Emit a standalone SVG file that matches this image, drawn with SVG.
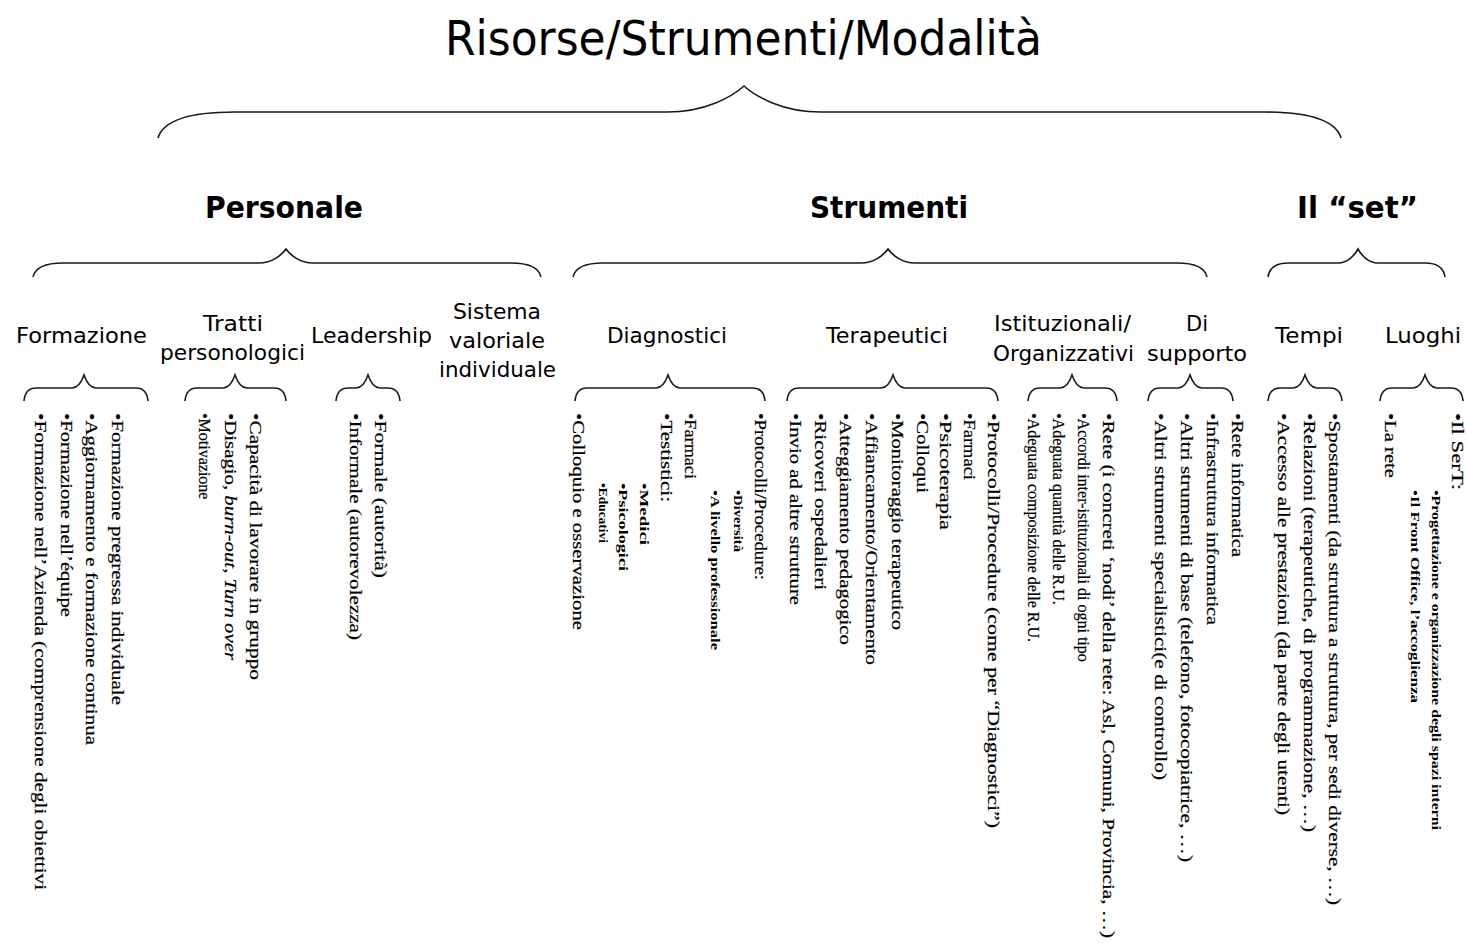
<svg xmlns="http://www.w3.org/2000/svg" width="1466" height="943" viewBox="0 0 1466 943">
<style>
.br{fill:none;stroke:#1a1a1a;stroke-width:1.6}
.t0{font-family:"DejaVu Sans",Tahoma,sans-serif;font-size:48px;fill:#000}
.t1{font-family:"DejaVu Sans",Tahoma,sans-serif;font-size:31px;font-weight:bold;fill:#000}
.t2{font-family:"DejaVu Sans",Tahoma,sans-serif;font-size:22px;fill:#000}
.b{font-family:"Liberation Serif","Times New Roman",serif;font-size:16px;fill:#000;stroke:#000;stroke-width:0.2}
.s{font-family:"Liberation Serif","Times New Roman",serif;font-size:13px;font-weight:bold;fill:#000}
</style>
<rect width="1466" height="943" fill="#fff"/>
<g id="connectors">
<path class="br" d="M158 138 Q165.7 112 235 112 L667 112 C705.5 112 732.5 96.4 744 86 C755.5 96.4 782.5 112 821 112 L1264 112 Q1333.3 112 1341 138"/>
<path class="br" d="M33 277 Q36 263 63 263 L259 263 C272.5 263 282 254.6 286 249 C290 254.6 299.5 263 313 263 L511 263 Q538 263 541 277"/>
<path class="br" d="M573 277 Q576 263 603 263 L861 263 C874.5 263 884 254.6 888 249 C892 254.6 901.5 263 915 263 L1177 263 Q1204 263 1207 277"/>
<path class="br" d="M1268 277 Q1270 263 1288 263 L1338 263 C1348 263 1355 254.6 1358 249 C1361 254.6 1368 263 1378 263 L1425 263 Q1443 263 1445 277"/>
<path class="br" d="M24 401 Q25.2 388 36 388 L72 388 C78 388 82.2 380.2 84 375 C85.8 380.2 90 388 96 388 L136 388 Q146.8 388 148 401"/>
<path class="br" d="M185 401 Q186.2 388 197 388 L223 388 C229 388 233.2 380.2 235 375 C236.8 380.2 241 388 247 388 L274 388 Q284.8 388 286 401"/>
<path class="br" d="M336 401 Q337.2 388 348 388 L356 388 C362 388 366.2 380.2 368 375 C369.8 380.2 374 388 380 388 L388 388 Q398.8 388 400 401"/>
<path class="br" d="M575 401 Q576.2 388 587 388 L656 388 C662 388 666.2 380.2 668 375 C669.8 380.2 674 388 680 388 L753 388 Q763.8 388 765 401"/>
<path class="br" d="M787 401 Q788.2 388 799 388 L881 388 C887 388 891.2 380.2 893 375 C894.8 380.2 899 388 905 388 L986 388 Q996.8 388 998 401"/>
<path class="br" d="M1028 401 Q1029.2 388 1040 388 L1060 388 C1066 388 1070.2 380.2 1072 375 C1073.8 380.2 1078 388 1084 388 L1105 388 Q1115.8 388 1117 401"/>
<path class="br" d="M1148 401 Q1149.2 388 1160 388 L1178 388 C1184 388 1188.2 380.2 1190 375 C1191.8 380.2 1196 388 1202 388 L1221 388 Q1231.8 388 1233 401"/>
<path class="br" d="M1268 401 Q1269.2 388 1280 388 L1293 388 C1299 388 1303.2 380.2 1305 375 C1306.8 380.2 1311 388 1317 388 L1330 388 Q1340.8 388 1342 401"/>
<path class="br" d="M1380 401 Q1381.2 388 1392 388 L1413 388 C1419 388 1423.2 380.2 1425 375 C1426.8 380.2 1431 388 1437 388 L1451 388 Q1461.8 388 1463 401"/>
</g>
<g id="title"><text class="t0" x="445" y="55" textLength="597" lengthAdjust="spacingAndGlyphs">Risorse/Strumenti/Modalità</text></g>
<g id="personale"><text class="t1" x="205" y="218" textLength="158" lengthAdjust="spacingAndGlyphs">Personale</text></g>
<g id="strumenti"><text class="t1" x="810" y="218" textLength="158" lengthAdjust="spacingAndGlyphs">Strumenti</text></g>
<g id="set"><text class="t1" x="1297" y="218" textLength="121" lengthAdjust="spacingAndGlyphs">Il “set”</text></g>

<g id="formazione">
<text class="t2" x="16" y="343" textLength="131" lengthAdjust="spacingAndGlyphs">Formazione</text>
<text class="b" transform="translate(112,413) rotate(90)" textLength="292" lengthAdjust="spacingAndGlyphs">•Formazione pregressa individuale</text>
<text class="b" transform="translate(86,413) rotate(90)" textLength="332" lengthAdjust="spacingAndGlyphs">•Aggiornamento e formazione continua</text>
<text class="b" transform="translate(61,413) rotate(90)" textLength="204" lengthAdjust="spacingAndGlyphs">•Formazione nell’équipe</text>
<text class="b" transform="translate(35,413) rotate(90)" textLength="477" lengthAdjust="spacingAndGlyphs">•Formazione nell’Azienda (comprensione degli obiettivi</text>
</g>
<g id="tratti">
<text class="t2" x="203" y="331" textLength="60" lengthAdjust="spacingAndGlyphs">Tratti</text>
<text class="t2" x="160" y="360" textLength="145" lengthAdjust="spacingAndGlyphs">personologici</text>
<text class="b" transform="translate(250,413) rotate(90)" textLength="267" lengthAdjust="spacingAndGlyphs">•Capacità di lavorare in gruppo</text>
<text class="b" transform="translate(225,413) rotate(90)" textLength="247" lengthAdjust="spacingAndGlyphs">•Disagio, <tspan font-style="italic">burn-out</tspan>, <tspan font-style="italic">Turn over</tspan></text>
<text class="b" transform="translate(199,413) rotate(90)">•Motivazione</text>
</g>
<g id="leadership">
<text class="t2" x="311" y="343" textLength="121" lengthAdjust="spacingAndGlyphs">Leadership</text>
<text class="b" transform="translate(375,413) rotate(90)" textLength="165" lengthAdjust="spacingAndGlyphs">•Formale (autorità)</text>
<text class="b" transform="translate(350,413) rotate(90)" textLength="227" lengthAdjust="spacingAndGlyphs">•Informale (autorevolezza)</text>
</g>
<g id="sistema">
<text class="t2" x="453" y="319" textLength="88" lengthAdjust="spacingAndGlyphs">Sistema</text>
<text class="t2" x="449" y="348" textLength="96" lengthAdjust="spacingAndGlyphs">valoriale</text>
<text class="t2" x="439" y="377" textLength="117" lengthAdjust="spacingAndGlyphs">individuale</text>
</g>
<g id="diagnostici">
<text class="t2" x="607" y="343" textLength="120" lengthAdjust="spacingAndGlyphs">Diagnostici</text>
<text class="b" transform="translate(755,413) rotate(90)" textLength="167" lengthAdjust="spacingAndGlyphs">•Protocolli/Procedure:</text>
<text class="s" transform="translate(734,490) rotate(90)" textLength="62" lengthAdjust="spacingAndGlyphs">•Diversità</text>
<text class="s" transform="translate(711,490) rotate(90)" textLength="160" lengthAdjust="spacingAndGlyphs">•A livello professionale</text>
<text class="b" transform="translate(685,413) rotate(90)" textLength="66" lengthAdjust="spacingAndGlyphs">•Farmaci</text>
<text class="b" transform="translate(661,413) rotate(90)" textLength="89" lengthAdjust="spacingAndGlyphs">•Testistici:</text>
<text class="s" transform="translate(640,483) rotate(90)" textLength="62" lengthAdjust="spacingAndGlyphs">•Medici</text>
<text class="s" transform="translate(619,483) rotate(90)" textLength="88" lengthAdjust="spacingAndGlyphs">•Psicologici</text>
<text class="s" transform="translate(599,483) rotate(90)" textLength="60" lengthAdjust="spacingAndGlyphs">•Educativi</text>
<text class="b" transform="translate(573,413) rotate(90)" textLength="217" lengthAdjust="spacingAndGlyphs">•Colloquio e osservazione</text>
</g>
<g id="terapeutici">
<text class="t2" x="826" y="343" textLength="122" lengthAdjust="spacingAndGlyphs">Terapeutici</text>
<text class="b" transform="translate(988,413) rotate(90)" textLength="415" lengthAdjust="spacingAndGlyphs">•Protocolli/Procedure (come per “Diagnostici”)</text>
<text class="b" transform="translate(964,413) rotate(90)" textLength="67" lengthAdjust="spacingAndGlyphs">•Farmaci</text>
<text class="b" transform="translate(940,413) rotate(90)" textLength="117" lengthAdjust="spacingAndGlyphs">•Psicoterapia</text>
<text class="b" transform="translate(917,413) rotate(90)" textLength="80" lengthAdjust="spacingAndGlyphs">•Colloqui</text>
<text class="b" transform="translate(892,413) rotate(90)" textLength="217" lengthAdjust="spacingAndGlyphs">•Monitoraggio terapeutico</text>
<text class="b" transform="translate(866,413) rotate(90)" textLength="252" lengthAdjust="spacingAndGlyphs">•Affiancamento/Orientamento</text>
<text class="b" transform="translate(840,413) rotate(90)" textLength="232" lengthAdjust="spacingAndGlyphs">•Atteggiamento pedagogico</text>
<text class="b" transform="translate(815,413) rotate(90)" textLength="177" lengthAdjust="spacingAndGlyphs">•Ricoveri ospedalieri</text>
<text class="b" transform="translate(790,413) rotate(90)" textLength="192" lengthAdjust="spacingAndGlyphs">•Invio ad altre strutture</text>
</g>
<g id="istituzionali">
<text class="t2" x="994" y="331" textLength="137" lengthAdjust="spacingAndGlyphs">Istituzionali/</text>
<text class="t2" x="993" y="361" textLength="141" lengthAdjust="spacingAndGlyphs">Organizzativi</text>
<text class="b" transform="translate(1103,413) rotate(90)" textLength="525" lengthAdjust="spacingAndGlyphs">•Rete (i concreti ‘nodi’ della rete: Asl, Comuni, Provincia, …)</text>
<text class="b" transform="translate(1078,413) rotate(90)">•Accordi inter-istituzionali di ogni tipo</text>
<text class="b" transform="translate(1053,413) rotate(90)">•Adeguata quantità delle R.U.</text>
<text class="b" transform="translate(1028,413) rotate(90)">•Adeguata composizione delle R.U.</text>
</g>
<g id="supporto">
<text class="t2" x="1186" y="331" textLength="22" lengthAdjust="spacingAndGlyphs">Di</text>
<text class="t2" x="1147" y="361" textLength="100" lengthAdjust="spacingAndGlyphs">supporto</text>
<text class="b" transform="translate(1232,413) rotate(90)" textLength="144" lengthAdjust="spacingAndGlyphs">•Rete informatica</text>
<text class="b" transform="translate(1207,413) rotate(90)" textLength="212" lengthAdjust="spacingAndGlyphs">•Infrastruttura informatica</text>
<text class="b" transform="translate(1181,413) rotate(90)" textLength="449" lengthAdjust="spacingAndGlyphs">•Altri strumenti di base (telefono, fotocopiatrice, …)</text>
<text class="b" transform="translate(1155,413) rotate(90)" textLength="367" lengthAdjust="spacingAndGlyphs">•Altri strumenti specialistici(e di controllo)</text>
</g>
<g id="tempi">
<text class="t2" x="1275" y="343" textLength="68" lengthAdjust="spacingAndGlyphs">Tempi</text>
<text class="b" transform="translate(1329,413) rotate(90)" textLength="492" lengthAdjust="spacingAndGlyphs">•Spostamenti (da struttura a struttura, per sedi diverse, …)</text>
<text class="b" transform="translate(1304,413) rotate(90)" textLength="419" lengthAdjust="spacingAndGlyphs">•Relazioni (terapeutiche, di programmazione, …)</text>
<text class="b" transform="translate(1278,413) rotate(90)" textLength="402" lengthAdjust="spacingAndGlyphs">•Accesso alle prestazioni (da parte degli utenti)</text>
</g>
<g id="luoghi">
<text class="t2" x="1385" y="343" textLength="76" lengthAdjust="spacingAndGlyphs">Luoghi</text>
<text class="b" transform="translate(1452,413) rotate(90)" textLength="77" lengthAdjust="spacingAndGlyphs">•Il SerT:</text>
<text class="s" transform="translate(1432,490) rotate(90)" textLength="340" lengthAdjust="spacingAndGlyphs">•Progettazione e organizzazione degli spazi interni</text>
<text class="s" transform="translate(1411,490) rotate(90)" textLength="213" lengthAdjust="spacingAndGlyphs">•Il Front Office, l’accoglienza</text>
<text class="b" transform="translate(1385,413) rotate(90)" textLength="65" lengthAdjust="spacingAndGlyphs">•La rete</text>
</g>
</svg>
